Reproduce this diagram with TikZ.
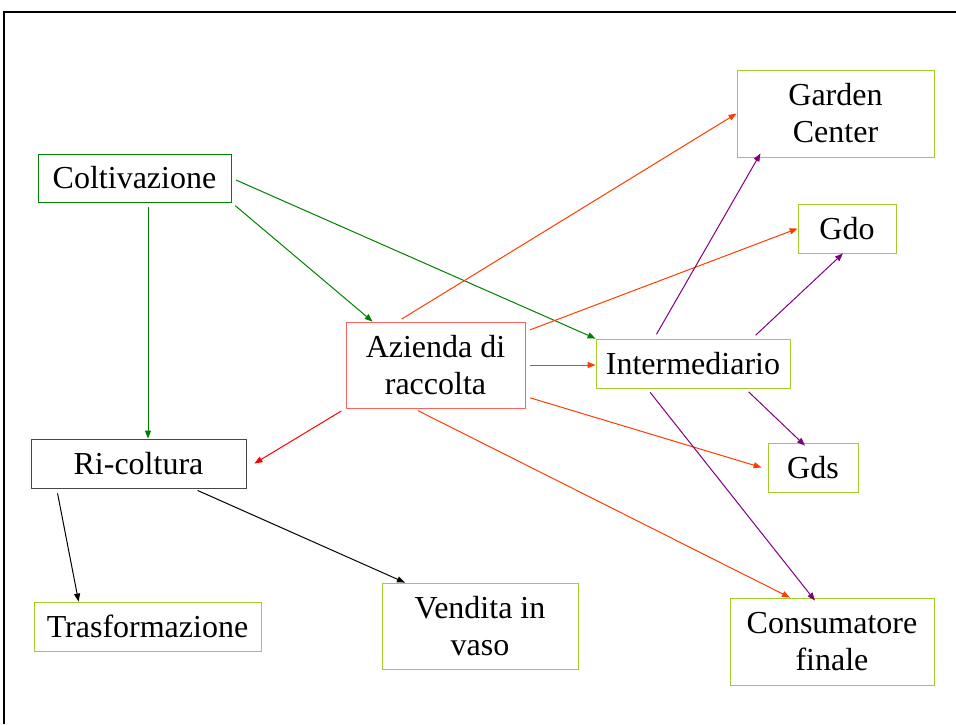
\documentclass[tikz,border=0pt]{standalone}
\usepackage{xcolor}
\usepackage{fontspec}
\setmainfont{Liberation Serif}
\usepackage{tikz}
\usetikzlibrary{arrows.meta}

\definecolor{darkgreen}{RGB}{0,128,0}
\definecolor{lightred}{RGB}{255,96,96}
\definecolor{limegreen}{RGB}{160,208,40}
\definecolor{orangered}{RGB}{255,60,0}
\definecolor{arrowpurple}{RGB}{128,0,128}
\definecolor{boxgray}{RGB}{70,70,70}

\begin{document}
\begin{tikzpicture}[x=1pt, y=-1pt,
    box/.style={draw, line width=0.8pt, inner sep=0pt, align=center,
                font=\fontsize{32}{37}\selectfont},
    link/.style={-{Triangle[length=8pt,width=6pt]}, line width=1pt, shorten <=5pt}]
                \useasboundingbox (0,0) rectangle (956,724);
                \draw[line width=1.2pt] (4,724) -- (4,12) -- (956,12);

                \node[box, draw=darkgreen, minimum width=193pt, minimum height=48pt] (coltiv) at (134.5,178) {Coltivazione};
                \node[box, draw=lightred, minimum width=179pt, minimum height=86pt] (azienda) at (435.5,365) {Azienda di\\raccolta};
                \node[box, draw=limegreen, minimum width=194pt, minimum height=49pt] (inter) at (693,363.5) {Intermediario};
                \node[box, draw=limegreen, minimum width=197pt, minimum height=87pt] (garden) at (835.5,113.5) {Garden\\Center};
                \node[box, draw=limegreen, minimum width=98pt, minimum height=49pt] (gdo) at (847,228.5) {Gdo};
                \node[box, draw=limegreen, minimum width=90pt, minimum height=49pt] (gds) at (813,467.5) {Gds};
                \node[box, draw=boxgray, minimum width=215pt, minimum height=49pt] (ricolt) at (138.5,463.5) {Ri-coltura};
                \node[box, draw=limegreen, minimum width=227pt, minimum height=49pt] (trasf) at (147.5,626.5) {Trasformazione};
                \node[box, draw=limegreen, minimum width=196pt, minimum height=86pt] (vendita) at (480,626) {Vendita in\\vaso};
                \node[box, draw=limegreen, minimum width=204pt, minimum height=87pt] (consum) at (832,641.5) {Consumatore\\finale};

                \draw[link, darkgreen] ([xshift=13.5pt]coltiv.south) -- ([xshift=9.5pt]ricolt.north);
                \draw[link, darkgreen] (coltiv.south east) -- ([xshift=27pt]azienda.north west);
                \draw[link, darkgreen] (coltiv.east) -- (inter.north west);

                \draw[link, orangered] ([xshift=-38pt]azienda.north) -- (garden.west);
                \draw[link, orangered] ([yshift=-10pt]azienda.north east) -- (gdo.west);
                \draw[link, orangered] (azienda.east) -- (azienda.east -| inter.west);
                \draw[link, orangered] ([yshift=12pt]azienda.south east) -- ([xshift=-6pt]gds.west);
                \draw[link, orangered] ([xshift=-22pt]azienda.south) -- ([xshift=-42pt]consum.north);
                \draw[link, red] (azienda.south west) -- ([xshift=8pt]ricolt.east);

                \draw[link, arrowpurple] ([xshift=-39pt]inter.north) -- ([xshift=-75pt, yshift=4pt]garden.south);
                \draw[link, arrowpurple] ([xshift=59pt]inter.north) -- ([xshift=-4pt]gdo.south);
                \draw[link, arrowpurple] ([xshift=52pt]inter.south) -- ([xshift=-8pt, yshift=-3pt]gds.north);
                \draw[link, arrowpurple] ([xshift=-46pt]inter.south) -- ([xshift=-17pt, yshift=-3pt]consum.north);

                \draw[link, black] ([xshift=26pt]ricolt.south west) -- ([xshift=45pt]trasf.north west);
                \draw[link, black] ([xshift=54.5pt]ricolt.south) -- ([xshift=-75pt]vendita.north);
            \end{tikzpicture}
\end{document}
